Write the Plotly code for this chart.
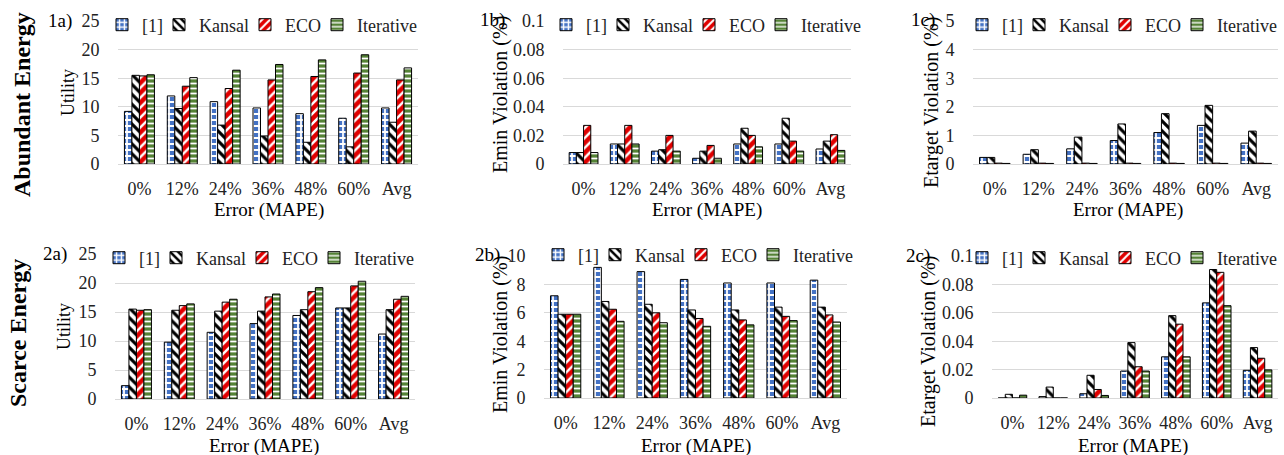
import plotly.graph_objects as go

W, H = 1284, 455
categories = ["0%", "12%", "24%", "36%", "48%", "60%", "Avg"]
series_names = ["[1]", "Kansal", "ECO", "Iterative"]

# Panel 1a: Abundant energy, Utility
p1a_ref1 = [9.2, 11.9, 10.9, 9.8, 8.8, 8.0, 9.8]
p1a_kansal = [15.5, 9.7, 6.8, 4.9, 3.8, 3.0, 7.3]
p1a_eco = [15.4, 13.6, 13.2, 14.7, 15.3, 15.9, 14.7]
p1a_iter = [15.6, 15.1, 16.4, 17.4, 18.2, 19.1, 16.8]

# Panel 1b: Abundant energy, Emin violation (%)
p1b_ref1 = [0.008, 0.014, 0.009, 0.004, 0.014, 0.014, 0.0105]
p1b_kansal = [0.008, 0.014, 0.010, 0.009, 0.025, 0.032, 0.016]
p1b_eco = [0.027, 0.027, 0.020, 0.013, 0.020, 0.016, 0.0205]
p1b_iter = [0.008, 0.014, 0.009, 0.004, 0.012, 0.009, 0.0095]

# Panel 1c: Abundant energy, Etarget violation (%)
p1c_ref1 = [0.23, 0.34, 0.53, 0.82, 1.10, 1.35, 0.73]
p1c_kansal = [0.23, 0.50, 0.94, 1.40, 1.76, 2.05, 1.15]
p1c_eco = [0.03, 0.03, 0.03, 0.03, 0.03, 0.03, 0.03]
p1c_iter = [0.02, 0.02, 0.02, 0.02, 0.02, 0.02, 0.02]

# Panel 2a: Scarce energy, Utility
p2a_ref1 = [2.3, 9.8, 11.5, 13.0, 14.4, 15.7, 11.2]
p2a_kansal = [15.5, 15.3, 15.15, 15.15, 15.4, 15.7, 15.4]
p2a_eco = [15.3, 16.1, 16.7, 17.6, 18.5, 19.5, 17.2]
p2a_iter = [15.4, 16.4, 17.2, 18.1, 19.2, 20.3, 17.7]

# Panel 2b: Scarce energy, Emin violation (%)
p2b_ref1 = [7.2, 9.2, 8.9, 8.35, 8.1, 8.1, 8.3]
p2b_kansal = [5.9, 6.8, 6.6, 6.2, 6.2, 6.4, 6.4]
p2b_eco = [5.9, 6.25, 6.0, 5.6, 5.5, 5.75, 5.85]
p2b_iter = [5.9, 5.4, 5.3, 5.05, 5.15, 5.45, 5.35]

# Panel 2c: Scarce energy, Etarget violation (%)
p2c_ref1 = [0.0, 0.001, 0.003, 0.019, 0.029, 0.067, 0.0195]
p2c_kansal = [0.0026, 0.0077, 0.016, 0.039, 0.058, 0.0905, 0.0355]
p2c_eco = [0.0, 0.0, 0.006, 0.022, 0.052, 0.0885, 0.028]
p2c_iter = [0.002, 0.0, 0.0018, 0.019, 0.029, 0.065, 0.0198]

y_ranges = [[0, 25], [0, 0.1], [0, 5], [0, 25], [0, 10], [0, 0.1]]
y_dticks = [5, 0.02, 1, 5, 2, 0.02]

panels = [
    [p1a_ref1, p1a_kansal, p1a_eco, p1a_iter],
    [p1b_ref1, p1b_kansal, p1b_eco, p1b_iter],
    [p1c_ref1, p1c_kansal, p1c_eco, p1c_iter],
    [p2a_ref1, p2a_kansal, p2a_eco, p2a_iter],
    [p2b_ref1, p2b_kansal, p2b_eco, p2b_iter],
    [p2c_ref1, p2c_kansal, p2c_eco, p2c_iter],
]

# pixel boxes of plot areas: (x0, x1, ytop, ybottom)
boxes = [
    (118, 418, 21, 164),
    (563, 851, 21, 164),
    (973, 1278, 21, 164),
    (115, 415, 254, 399),
    (544, 847, 256, 398),
    (992, 1278, 256, 398),
]

styles = [
    dict(color="#4472C4", fg="white", bg="#4472C4", shape="+", size=6, solidity=0.5),
    dict(color="white", fg="black", bg="white", shape="\\", size=7, solidity=0.45),
    dict(color="#E00000", fg="white", bg="#E00000", shape="/", size=7, solidity=0.35),
    dict(color="#548235", fg="white", bg="#548235", shape="-", size=5, solidity=0.35),
]
# text width reserved for each legend entry (px)
legend_widths = [12, 41, 27, 60]

SERIF = "Liberation Serif"
fig = go.Figure()

# first legend swatch left edge (px), legend centre y (px)
legend_pos = [(116, 25), (560, 25), (976, 25), (113, 258), (552, 255), (976, 258)]

for i, (data, box) in enumerate(zip(panels, boxes)):
    ax = "" if i == 0 else str(i + 1)
    leg = "legend" if i == 0 else f"legend{i + 1}"
    for name, vals, st, lw in zip(series_names, data, styles, legend_widths):
        fig.add_trace(go.Bar(
            x=categories, y=vals, name=name,
            xaxis="x" + ax, yaxis="y" + ax, legend=leg, legendwidth=lw,
            marker=dict(
                color=st["color"],
                line=dict(color="black", width=1),
                pattern=dict(shape=st["shape"], fgcolor=st["fg"], bgcolor=st["bg"],
                             size=st["size"], solidity=st["solidity"], fillmode="replace"),
            ),
            hoverinfo="x+y+name",
        ))
    x0, x1, yt, yb = box
    fig.layout["xaxis" + ax] = dict(
        domain=[x0 / W, x1 / W], anchor="y" + ax,
        showgrid=False, showline=True, linecolor="#D9D9D9", linewidth=1,
        ticks="outside", ticklen=8, tickcolor="rgba(0,0,0,0)",
        tickfont=dict(family=SERIF, size=18, color="#222"),
        fixedrange=True,
    )
    fig.layout["yaxis" + ax] = dict(
        domain=[1 - yb / H, 1 - yt / H], anchor="x" + ax,
        range=y_ranges[i], dtick=y_dticks[i], tick0=0,
        showgrid=True, gridcolor="#D9D9D9", gridwidth=1, zeroline=False,
        showline=False,
        ticks="outside", ticklen=14, tickcolor="rgba(0,0,0,0)",
        tickfont=dict(family=SERIF, size=18, color="#222"),
        fixedrange=True,
    )
    lx, ly = legend_pos[i]
    fig.layout[leg] = dict(
        orientation="h", x=(lx - 14) / W, y=1 - ly / H, xanchor="left", yanchor="middle",
        bgcolor="rgba(0,0,0,0)", font=dict(family=SERIF, size=18, color="#222"),
        itemwidth=30, tracegroupgap=0, itemclick=False, itemdoubleclick=False,
    )

annotations = []

def ann(text, x, y, size, angle=0, bold=False):
    annotations.append(dict(
        text=f"<b>{text}</b>" if bold else text, x=x / W, y=1 - y / H,
        xref="paper", yref="paper", showarrow=False, textangle=angle,
        xanchor="center", yanchor="middle",
        font=dict(family=SERIF, size=size, color="black"),
    ))

ann("Abundant Energy", 22, 105, 24, -90, True)
ann("Scarce Energy", 18, 333, 24, -90, True)

ann("1a)", 60, 21, 19)
ann("1b)", 492, 20, 19)
ann("1c)", 923, 20, 19)
ann("2a)", 55, 254, 19)
ann("2b)", 487, 255, 19)
ann("2c)", 918, 256, 19)

ann("Utility", 68, 93, 18, -90)
ann("Emin Violation (%)", 500, 95, 20, -90)
ann("Etarget Violation (%)", 932, 103, 20, -90)
ann("Utility", 64, 327, 18, -90)
ann("Emin Violation (%)", 500, 335, 20, -90)
ann("Etarget Violation (%)", 928, 342, 20, -90)

for (xc, yc) in [(269, 210), (707, 210), (1128, 210), (264, 446), (696, 446), (1133, 446)]:
    ann("Error (MAPE)", xc, yc, 19)

fig.update_layout(
    width=W, height=H, margin=dict(l=0, r=0, t=0, b=0, autoexpand=False),
    paper_bgcolor="white", plot_bgcolor="white",
    barmode="group", bargap=0.3, bargroupgap=0,
    annotations=annotations, showlegend=True,
)

fig.write_html("out.html", config={"displayModeBar": False})
